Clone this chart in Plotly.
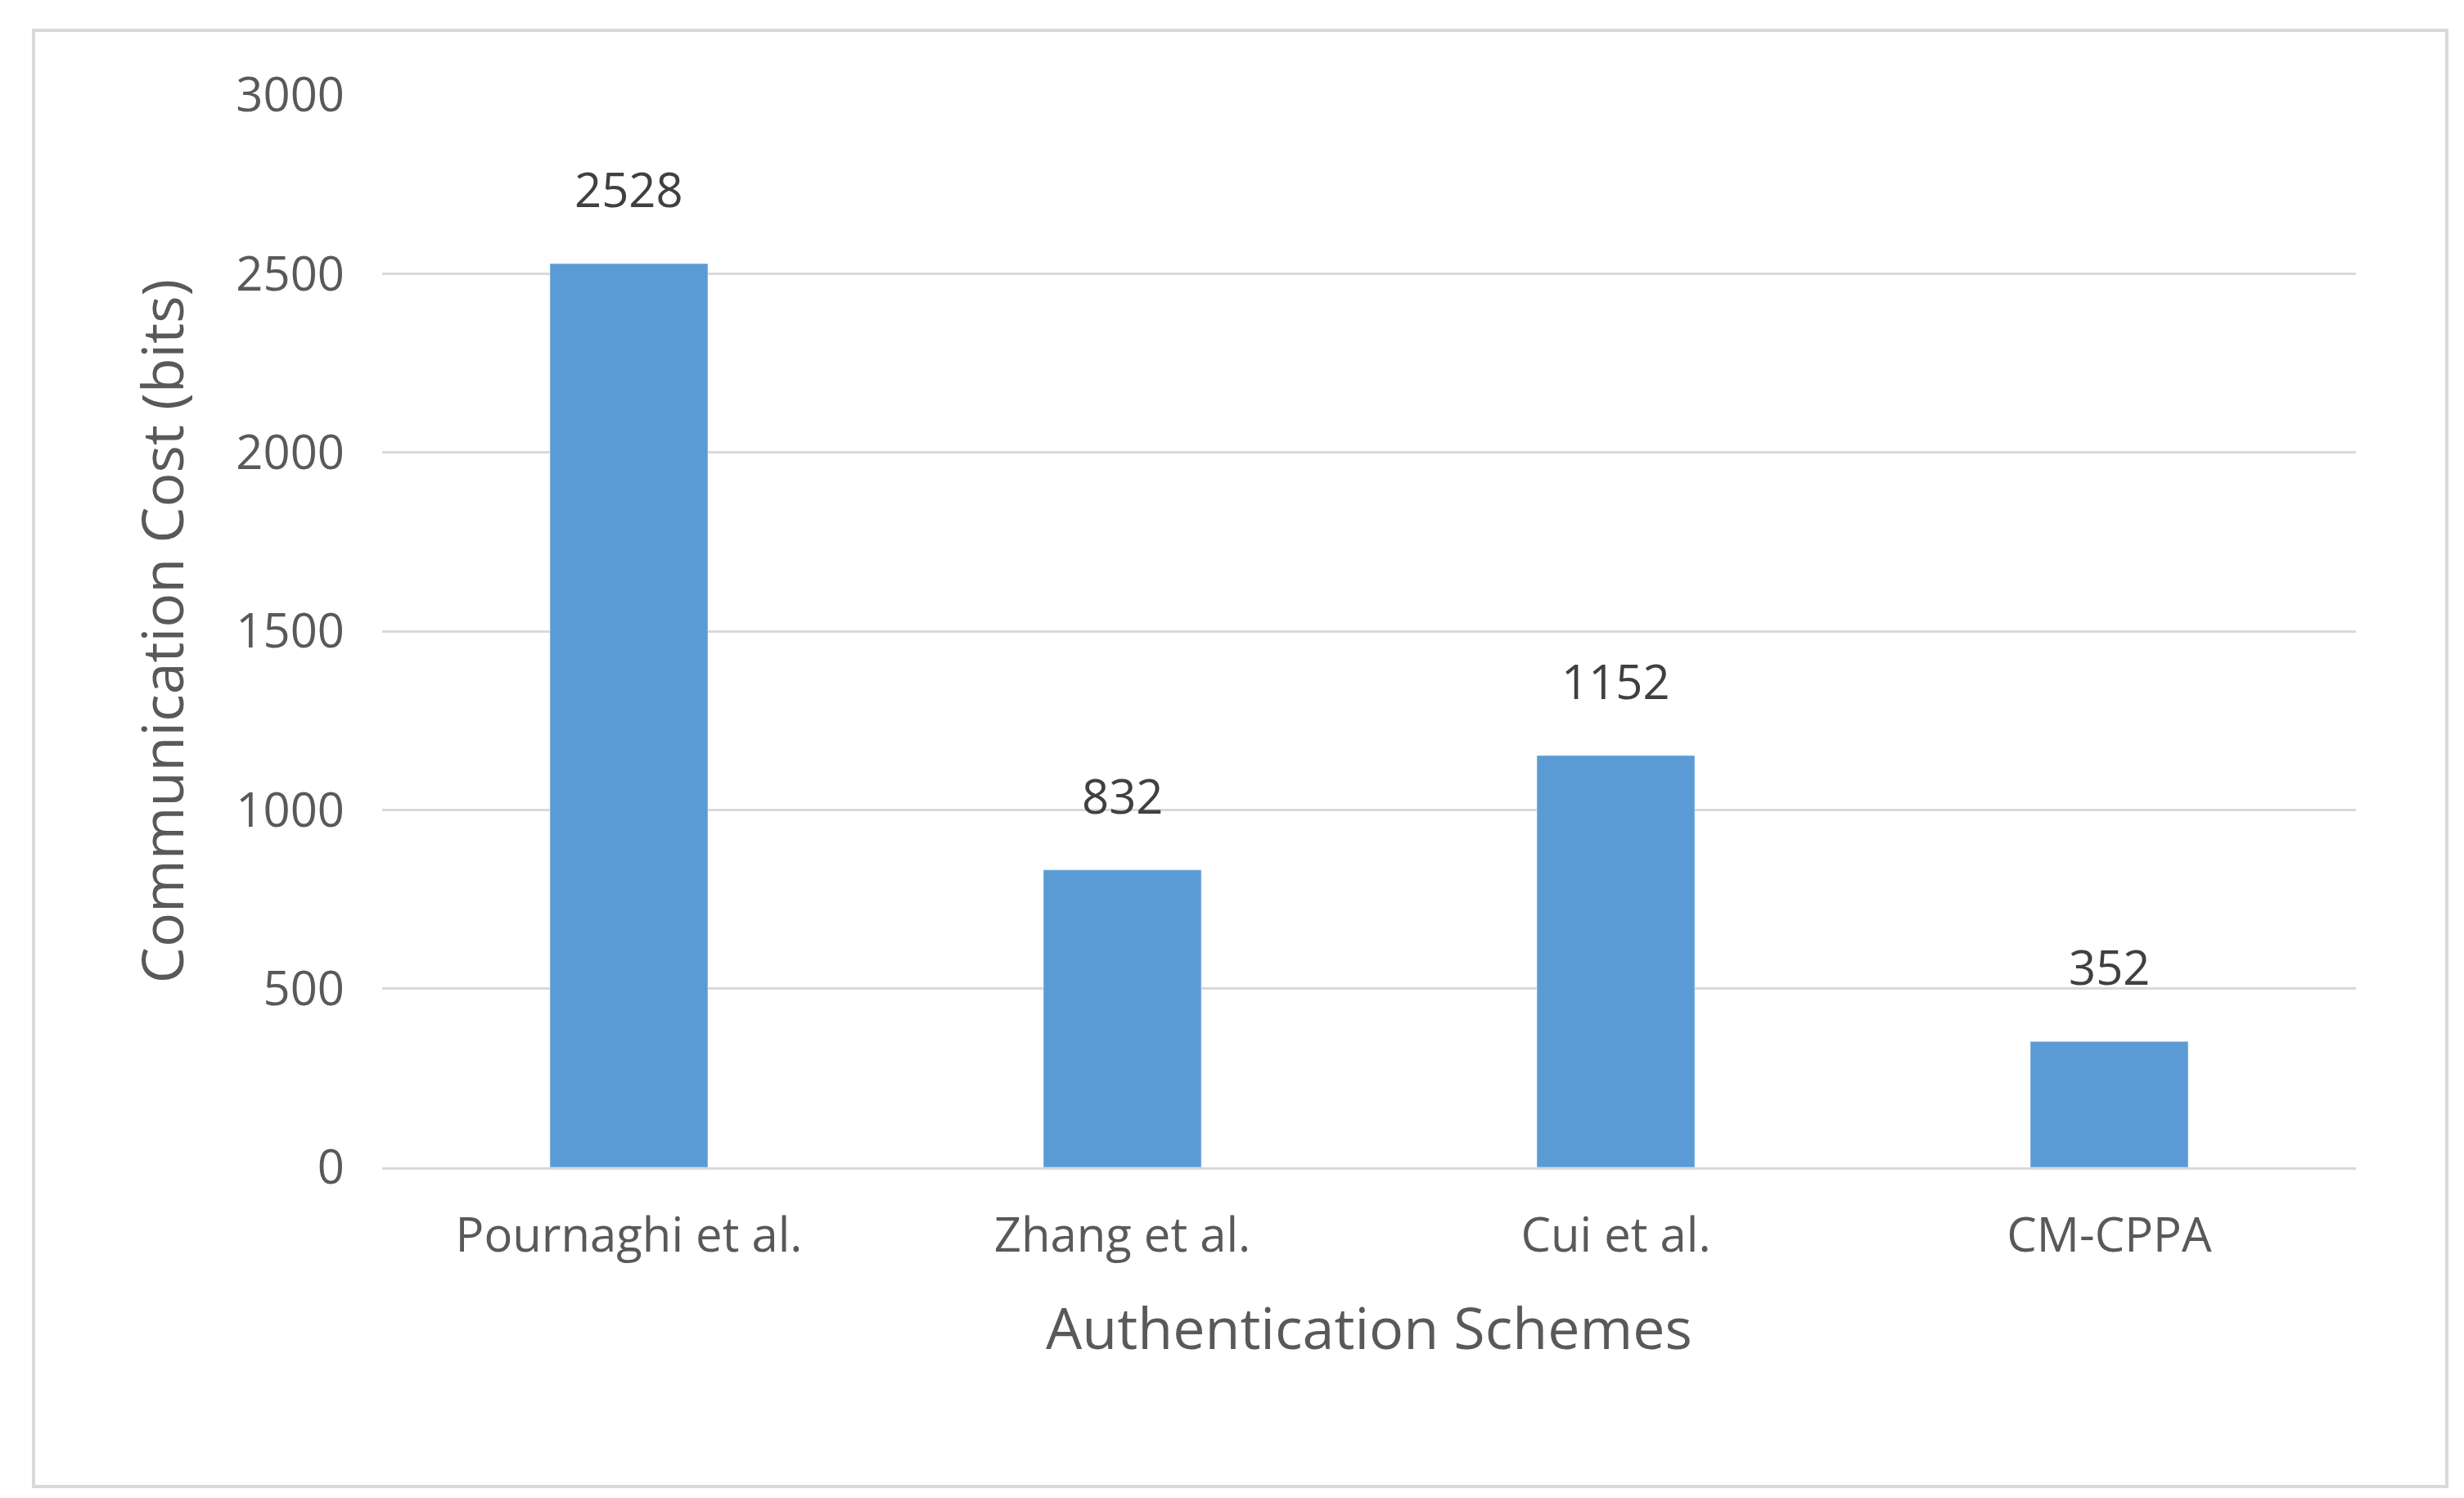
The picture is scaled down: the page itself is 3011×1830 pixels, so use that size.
import plotly.graph_objects as go

categories = ["Pournaghi et al.", "Zhang et al.", "Cui et al.", "CM-CPPA"]
values = [2528, 832, 1152, 352]
tickvals = [0, 500, 1000, 1500, 2000, 2500, 3000]

W, H = 3011, 1830
L, R, T, B = 459, 140, 108, 412
pw, ph = W - L - R, H - T - B

fig = go.Figure(go.Bar(
    x=categories, y=values, marker_color="#5B9BD5", width=0.32,
))
for c, v in zip(categories, values):
    fig.add_annotation(x=c, y=v, text=str(v), showarrow=False, yanchor="bottom",
                       yshift=50, font=dict(size=58, color="#404040"))
fig.update_layout(
    width=W, height=H, margin=dict(l=L, r=R, t=T, b=B),
    paper_bgcolor="white", plot_bgcolor="white",
    font=dict(family="Open Sans", color="#595959"),
    showlegend=False,
    xaxis=dict(title=dict(text="Authentication Schemes", font=dict(size=70), standoff=55),
               tickfont=dict(size=58), showline=True, linecolor="#D9D9D9", linewidth=3,
               ticks="", ticklabelstandoff=30),
    yaxis=dict(title=dict(text="Communication Cost (bits)", font=dict(size=70), standoff=40),
               range=[0, 3000], tickvals=tickvals, tickfont=dict(size=58),
               gridcolor="#D9D9D9", gridwidth=3, zeroline=False, ticklabelstandoff=45),
    shapes=[dict(type="rect", xref="paper", yref="paper",
                 x0=(33 - L) / pw, x1=(2982 - L) / pw,
                 y0=(H - B - 1808) / ph, y1=(H - B - 29) / ph,
                 line=dict(color="#D9D9D9", width=4))],
)
fig.write_html("out.html")
